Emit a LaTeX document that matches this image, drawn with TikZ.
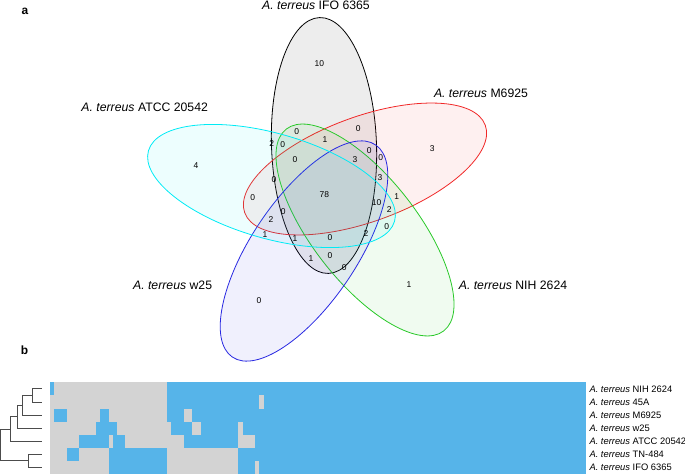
\documentclass[tikz,border=0pt]{standalone}
\usepackage{fontspec}
\setmainfont{Liberation Sans}
\definecolor{hmblue}{RGB}{86,180,233}
\definecolor{hmgray}{RGB}{211,211,211}
\definecolor{vred}{RGB}{240,40,40}
\definecolor{vgreen}{RGB}{40,200,40}
\definecolor{vblue}{RGB}{40,40,225}
\definecolor{vcyan}{RGB}{0,235,245}
\tikzset{
  setline/.style={line width=0.8bp, draw=#1, fill=#1, fill opacity=0.07},
  setname/.style={font=\fontsize{12.3}{14}\selectfont, inner sep=0pt},
  cnt/.style={font=\fontsize{8.5}{10}\selectfont, inner sep=0pt},
  strain/.style={font=\fontsize{9.4}{11}\selectfont, anchor=west, inner sep=0pt},
  tree/.style={line width=0.9bp, draw=black!70},
  panel/.style={font=\bfseries\fontsize{12}{14}\selectfont, inner sep=0pt}
}
\begin{document}
\begin{tikzpicture}[x=1bp, y=-1bp]
      \useasboundingbox (0,0) rectangle (685,474);
      \node[panel] (a) at (25,11) {a};
      \node[panel] (b) at (24.5,350.5) {b};
      % five sets
      \draw[setline=black, rotate around={92:(324,145.5)}] (324,145.5) ellipse [x radius=128bp, y radius=52.5bp];
      \draw[setline=vred, rotate around={20:(365,169)}] (365,169) ellipse [x radius=128bp, y radius=52.5bp];
      \draw[setline=vgreen, rotate around={-52:(365,230)}] (365,230) ellipse [x radius=128bp, y radius=52.5bp];
      \draw[setline=vblue, rotate around={56:(304,251)}] (304,251) ellipse [x radius=128bp, y radius=52.5bp];
      \draw[setline=vcyan, rotate around={164:(271.5,186)}] (271.5,186) ellipse [x radius=128bp, y radius=52.5bp];
      \node[setname] (ifo) at (316,5.3) {\textit{A. terreus} IFO 6365};
      \node[setname] (m69) at (481,93.5) {\textit{A. terreus} M6925};
      \node[setname] (nih) at (513,285.5) {\textit{A. terreus} NIH 2624};
      \node[setname] (w25) at (172.6,285.5) {\textit{A. terreus} w25};
      \node[setname] (atcc) at (144.7,107) {\textit{A. terreus} ATCC 20542};
      % region counts
      \foreach \x/\y/\t [count=\i] in {
        319.3/63.3/10, 196/166/4, 432.3/149/3, 259/300.7/0, 409/285/1,
        296.7/131.7/0, 358.3/128.3/0, 325/140/1, 271.7/143.3/2, 282.7/144.3/0,
        369.3/150.7/0, 380.7/157.7/0, 295/160/0, 355/160/3, 274/180/0,
        380/177.7/3, 396.7/196.7/1, 252.7/197.3/0, 324.3/195/78, 376.7/202.7/10,
        389.3/209.3/2, 283.3/211.7/0, 271/220/2, 386.7/226.7/0, 265/235/1,
        295/238.3/1, 330/237.3/0, 366/233.3/2, 311/258.3/1, 330/256/0,
        344.3/267.7/0}
        \node[cnt] (n\i) at (\x,\y) {\t};
      % presence/absence matrix
      \fill[hmgray] (50,382.3) rectangle (586,474);
      \foreach \r/\s/\e in {0/0/1, 0/28/128,
        1/28/50, 1/51/128,
        2/1/4, 2/12/14, 2/28/32, 2/34/128,
        3/11/16, 3/29/34, 3/36/45, 3/46/128,
        4/7/14, 4/15/18, 4/32/45, 4/49/128,
        5/4/7, 5/14/28, 5/45/128,
        6/14/28, 6/45/49, 6/50/128}
        \fill[hmblue] ({50+\s*4.1875},{382.3+\r*13.1}) rectangle ({50+\e*4.1875},{382.3+(\r+1)*13.1});
      \foreach \t [count=\i from 0] in {NIH 2624, 45A, M6925, w25, ATCC 20542, TN-484, IFO 6365} {
        \coordinate (leaf\i) at (41.7,{382.3+(\i+0.5)*13.1});
        \node[strain] (s\i) at (589.3,{382.3+(\i+0.5)*13.1}) {\textit{A. terreus} \t};
      }
      % tree
      \coordinate (j01) at (32,395.4);
      \coordinate (j012) at (22.3,405.2);
      \coordinate (j0123) at (17.3,416.7);
      \coordinate (j01234) at (10.7,429);
      \coordinate (j56) at (28.3,460.9);
      \coordinate (root) at (0.7,445);
      \draw[tree] (j01) |- (leaf0);
      \draw[tree] (j01) |- (leaf1);
      \draw[tree] (j012) |- (j01);
      \draw[tree] (j012) |- (leaf2);
      \draw[tree] (j0123) |- (j012);
      \draw[tree] (j0123) |- (leaf3);
      \draw[tree] (j01234) |- (j0123);
      \draw[tree] (j01234) |- (leaf4);
      \draw[tree] (j56) |- (leaf5);
      \draw[tree] (j56) |- (leaf6);
      \draw[tree] (root) |- (j01234);
      \draw[tree] (root) |- (j56);
\end{tikzpicture}
\end{document}
